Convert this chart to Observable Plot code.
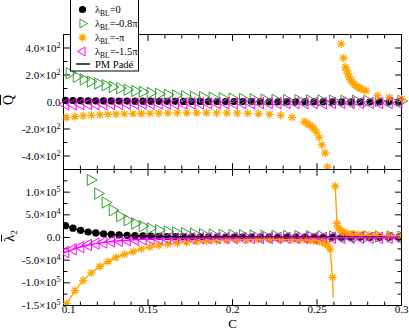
<!DOCTYPE html>
<html><head><meta charset="utf-8">
<script src="https://cdn.jsdelivr.net/npm/d3@7"></script>
<script src="https://cdn.jsdelivr.net/npm/@observablehq/plot@0.6"></script>
<style>
html,body{margin:0;padding:0;background:#fff;}
#wrap{position:relative;width:409px;height:329px;overflow:hidden;font-family:"Liberation Serif","DejaVu Serif",serif;}
#wrap > svg{position:absolute;left:0;}
.lab{position:absolute;font-family:"Liberation Serif","DejaVu Serif",serif;color:#000;white-space:nowrap;line-height:1;}
</style></head><body><div id="wrap"></div>
<script>
// ---------- data ----------
const gridC = [0.1012,0.1056,0.1101,0.1146,0.1191,0.1237,0.1283,0.1329,0.1376,0.1423,0.1470,0.1517,0.1565,0.1613,0.1661,0.1710,0.1759,0.1809,0.1858,0.1908,0.1959,0.2009,0.2060,0.2112,0.2164,0.2216,0.2268,0.2321,0.2374,0.2428,0.2482,0.2536,0.2590,0.2645,0.2701,0.2756,0.2813,0.2869,0.2926,0.2983];
const qBlack = [12,11,10,9,9,8,8,7,7,6,6,6,5,5,5,4,4,4,4,3,3,3,3,3,2,2,2,2,2,2,2,2,1,1,1,1,1,1,1,1];
const qMagenta = [-18,-17,-16,-15,-15,-14,-14,-13,-13,-12,-12,-12,-11,-11,-11,-10,-10,-10,-10,-9,-9,-9,-9,-9,-8,-8,-8,-8,-8,-8,-8,-8,-7,-7,-7,-7,-7,-7,-7,-7];
const lBlack = [26000,20500,15500,12000,10000,8200,6800,5600,4700,4000,3400,2900,2500,2200,1900,1700,1500,1350,1250,1150,1050,1000,950,900,850,800,780,760,740,720,700,680,660,640,620,600,590,580,570,560];
const lMagenta = [-32000,-26000,-21000,-16500,-13500,-11000,-8800,-7300,-6000,-4900,-4000,-3400,-2900,-2500,-2200,-1900,-1700,-1550,-1400,-1300,-1200,-1100,-1050,-1000,-950,-900,-870,-840,-810,-780,-750,-720,-700,-680,-660,-640,-620,-600,-590,-580];

const gC = [0.1035,0.1077,0.1118,0.1160,0.1204,0.1248,0.1290,0.1334,0.1378,0.1423,0.1467,0.1514,0.1564,0.1615,0.1665,0.1718,0.1771,0.1824,0.1881,0.1940,0.1999,0.2061,0.2123,0.2188,0.2253,0.2321,0.2389,0.2457,0.2525,0.2593,0.2661,0.2729,0.2797,0.2865,0.2934,0.2998];
const qGreen = [213,186,167,151,137,124,112,102,91,82,75,67,60,54,48,42,39,36,32,28,25,22,20,18,16,14,13,12,11,10,9,9,8,8,7,7];
const lGreenC = [0.1160,0.1204,0.1248,0.1290,0.1334,0.1378,0.1423,0.1467,0.1514,0.1564,0.1615,0.1665,0.1718,0.1771,0.1824,0.1881,0.1940,0.1999,0.2061,0.2123,0.2188,0.2253,0.2321,0.2389,0.2457,0.2525,0.2593,0.2661,0.2729,0.2797,0.2865,0.2934,0.2998];
const lGreen = [127000,97000,77000,60000,47000,38000,31000,25000,20000,16000,13000,11000,9500,8300,7300,6500,5800,5200,4700,4300,3900,3600,3300,3100,2900,2700,2500,2400,2300,2200,2100,2000,1900];

const sC = [0.1018,0.1068,0.1116,0.1165,0.1215,0.1263,0.1311,0.1361,0.1411,0.1461,0.1512,0.1564,0.1618,0.1674,0.1730,0.1788,0.1846,0.1906,0.1966,0.2028,0.2090,0.2154,0.2219,0.2285,0.2352,
  0.2424,0.2436,0.2448,0.2460,0.2472,0.2483,0.2498,0.2513,0.2529,0.2548,0.2562,
  0.2643,0.2657,0.2668,0.2675,0.2683,0.2690,0.2696,0.2705,0.2716,0.2726,0.2738,0.2749,0.2761,0.2775,0.2791,0.2858,0.2929,0.3002];
const qOrange = [-115,-108,-103,-99,-95,-92,-90,-88,-86,-85,-84,-83,-82,-81,-80,-80,-80,-81,-82,-83,-84,-86,-92,-99,-114,
  -145,-155,-163,-173,-185,-200,-225,-262,-318,-378,-483,
  431,326,259,235,209,185,168,152,136,125,113,105,98,90,83,47,32,22];

const lsLowC = [0.1018,0.1068,0.1116,0.1165,0.1215,0.1263,0.1311,0.1361,0.1411,0.1461,0.1512,0.1564,0.1618,0.1674,0.1730,0.1788,0.1846,0.1906,0.1966,0.2028,0.2090,0.2154,0.2219,0.2285,0.2352,
  0.2401,0.2440,0.2460,0.2479,0.2499,0.2515,0.2529,0.2543,0.2551,0.2564,0.2578,0.2592];
const lOrangeLow = [-146000,-117000,-95000,-78000,-64000,-53000,-44000,-37000,-31000,-25000,-21000,-17500,-14500,-12000,-10500,-9000,-7800,-6800,-6000,-5300,-4800,-4500,-4400,-4500,-4800,
  -5200,-5800,-6300,-7000,-7800,-8800,-10000,-11500,-13000,-17000,-26000,-88000];
const lsHighC = [0.2608,0.2618,0.2627,0.2637,0.2647,0.2657,0.2670,0.2684,0.2702,0.2723,0.2743,0.2767,0.2809,0.2854,0.2923,0.3002];
const lOrangeHigh = [113000,31000,21000,16000,13000,11000,9500,8300,7400,6700,6100,5700,5100,4600,4000,3500];

// PM Padé curve ends (beyond the markers)
const padeLeadC = [0.1];
const padeBlackLead = [28000];
const padeMagentaLead = [-34000];
const padeOrangeLead = [-162000];
const padePoleC = [0.2596];
const padeOrangePole = [-131000];

// ticks
const xMajor = [0.1,0.15,0.2,0.25,0.3];
const xMajorLabels = ["0.1","0.15","0.2","0.25","0.3"];
const xMinor = [0.11,0.12,0.13,0.14,0.16,0.17,0.18,0.19,0.21,0.22,0.23,0.24,0.26,0.27,0.28,0.29];
const topTickVals = [-400,-200,0,200,400];
const topTickLabels = ["-4.0×10^2","-2.0×10^2","0.0","2.0×10^2","4.0×10^2"];
const topMinor = [-300,-100,100,300];
const botTickVals = [-150000,-100000,-50000,0,50000,100000];
const botTickLabels = ["-1.5×10^5","-1.0×10^5","-5.0×10^4","0.0","5.0×10^4","1.0×10^5"];
const botMajorAll = [-150000,-100000,-50000,0,50000,100000,150000];
const botMinor = [-125000,-75000,-25000,25000,75000,125000];
const xTitle = ["C"];

const legendLabels = [["λ","BL","=0"],["λ","BL","=-0.8π"],["λ","BL","=-π"],["λ","BL","=-1.5π"]];
const padeLabel = "PM Padé";

// ---------- styles ----------
const SERIF = '"Liberation Serif", "DejaVu Serif", serif';
const GREEN = "#2f9f2f", ORANGE = "#ffa500", MAGENTA = "#ff00ff";
const tickShape = {draw(ctx, l){ ctx.moveTo(0,0); ctx.lineTo(0,-l); }};
const starSymbol = {draw(ctx, size){
  const r = Math.sqrt(size/Math.PI), d = r*0.7071;
  ctx.moveTo(-r,0); ctx.lineTo(r,0); ctx.moveTo(0,-r); ctx.lineTo(0,r);
  ctx.moveTo(-d,-d); ctx.lineTo(d,d); ctx.moveTo(-d,d); ctx.lineTo(d,-d);
}};

function frameTicks(xMaj, xMin, yMaj, yMin){
  const o = {anchor:"start", shape: tickShape, stroke:"black", strokeWidth:1};
  const m = [];
  for (const [vals, len] of [[xMaj,6],[xMin,3.5]]) {
    m.push(Plot.vector(vals, {...o, x: d=>d, frameAnchor:"bottom", rotate:0, length:len}));
    m.push(Plot.vector(vals, {...o, x: d=>d, frameAnchor:"top", rotate:180, length:len}));
  }
  for (const [vals, len] of [[yMaj,6],[yMin,3.5]]) {
    m.push(Plot.vector(vals, {...o, y: d=>d, frameAnchor:"left", rotate:90, length:len}));
    m.push(Plot.vector(vals, {...o, y: d=>d, frameAnchor:"right", rotate:-90, length:len}));
  }
  return m;
}
function supify(svg){
  d3.select(svg).selectAll('g[aria-label="y-axis tick label"] text').each(function(){
    const t = this.textContent; const k = t.indexOf("^"); if (k < 0) return;
    const s = d3.select(this); s.text(t.slice(0,k));
    s.append("tspan").attr("dy","-0.5em").attr("font-size","8px").text(t.slice(k+1));
  });
  d3.select(svg).selectAll('text').style("font-family", SERIF);
}
const dotsOf = (C, V, kind, clip) => {
  if (kind === "circle") return Plot.dot(V, {x: C, y: V, r: 3.6, fill: "black", stroke: "none", clip});
  if (kind === "right") return Plot.dot(V, {x: C, y: V, r: 4.2, symbol: "triangle", rotate: 90, fill: "none", stroke: GREEN, strokeWidth: 1, clip});
  if (kind === "left") return Plot.dot(V, {x: C, y: V, r: 4.2, symbol: "triangle", rotate: -90, fill: "none", stroke: MAGENTA, strokeWidth: 1, clip});
  return Plot.dot(V, {x: C, y: V, r: 4.2, symbol: starSymbol, fill: "none", stroke: ORANGE, strokeWidth: 1.3, clip});
};

const wrap = document.getElementById("wrap");

// ---------- top panel ----------
const topSvg = Plot.plot({
  width: 409, height: 170, marginLeft: 63, marginRight: 8, marginTop: 34, marginBottom: 1,
  style: {fontFamily: SERIF, fontSize: "11px", background: "transparent", color: "black"},
  x: {domain: [0.1, 0.3], axis: null},
  y: {domain: [-500, 500], axis: null},
  marks: [
    Plot.frame({stroke: "black", strokeWidth: 1}),
    ...frameTicks(xMajor, xMinor, topTickVals, topMinor),
    Plot.axisY({ticks: topTickVals, tickFormat: d => topTickLabels[topTickVals.indexOf(d)], tickSize: 0, tickPadding: 3, label: null, fontSize: 11}),
    dotsOf(gridC, qBlack, "circle"),
    dotsOf(gC, qGreen, "right"),
    dotsOf(sC, qOrange, "star"),
    dotsOf(gridC, qMagenta, "left")
  ]
});
topSvg.style.top = "0px";
supify(topSvg);
wrap.appendChild(topSvg);

// ---------- bottom panel ----------
const padeBlackC = padeLeadC.concat(gridC), padeBlackV = padeBlackLead.concat(lBlack);
const padeMagC = padeLeadC.concat(gridC), padeMagV = padeMagentaLead.concat(lMagenta);
const padeOrLowC = padeLeadC.concat(lsLowC, padePoleC), padeOrLowV = padeOrangeLead.concat(lOrangeLow, padeOrangePole);

const botSvg = Plot.plot({
  width: 409, height: 161, marginLeft: 63, marginRight: 8, marginTop: 1, marginBottom: 24,
  style: {fontFamily: SERIF, fontSize: "11px", background: "transparent", color: "black"},
  x: {domain: [0.1, 0.3], axis: null},
  y: {domain: [-150000, 150000], axis: null},
  marks: [
    Plot.frame({stroke: "black", strokeWidth: 1}),
    ...frameTicks(xMajor, xMinor, botMajorAll, botMinor),
    Plot.axisY({ticks: botTickVals, tickFormat: d => botTickLabels[botTickVals.indexOf(d)], tickSize: 0, tickPadding: 3, label: null, fontSize: 11}),
    Plot.axisX({ticks: xMajor, tickFormat: d => xMajorLabels[xMajor.indexOf(d)], tickSize: 0, tickPadding: 0, label: null, fontSize: 11}),
    Plot.text(xTitle, {text: d => d, frameAnchor: "bottom", dy: 22, lineAnchor: "bottom", fontSize: 13}),
    dotsOf(gridC, lBlack, "circle", true),
    dotsOf(lGreenC, lGreen, "right", true),
    dotsOf(lsLowC, lOrangeLow, "star", true),
    dotsOf(lsHighC, lOrangeHigh, "star", true),
    dotsOf(gridC, lMagenta, "left", true),
    Plot.line(padeBlackV, {x: padeBlackC, y: padeBlackV, stroke: "black", strokeWidth: 1.4, clip: true}),
    Plot.line(padeMagV, {x: padeMagC, y: padeMagV, stroke: MAGENTA, strokeWidth: 1.4, clip: true}),
    Plot.line(padeOrLowV, {x: padeOrLowC, y: padeOrLowV, stroke: ORANGE, strokeWidth: 1.4, clip: true}),
    Plot.line(lOrangeHigh, {x: lsHighC, y: lOrangeHigh, stroke: ORANGE, strokeWidth: 1.4, clip: true})
  ]
});
botSvg.style.top = "168px";
supify(botSvg);
d3.select(botSvg).selectAll('g[aria-label="x-axis tick label"] text').each(function(){
  if (this.textContent === "0.1") d3.select(this).attr("dx", 5);
});
wrap.appendChild(botSvg);

// ---------- axis titles ----------
function addLabel(html, cx, cy, size, rotate){
  const d = document.createElement("div");
  d.className = "lab";
  d.innerHTML = html;
  d.style.fontSize = size + "px";
  d.style.left = cx + "px"; d.style.top = cy + "px";
  d.style.transform = "translate(-50%,-50%)" + (rotate ? " rotate(-90deg)" : "");
  wrap.appendChild(d);
}
addLabel('<span style="text-decoration:overline">Q</span>', 9, 100, 14, true);
addLabel('<span style="text-decoration:overline">λ</span><span style="font-size:9px;position:relative;top:3px">2</span>', 10, 236, 14, true);

// ---------- legend ----------
const lg = d3.create("svg").attr("width", 69).attr("height", 73)
  .style("position","absolute").style("left","69.5px").style("top","-1px")
  .style("font-family", SERIF).style("font-size","10.5px");
lg.append("rect").attr("x",0.5).attr("y",0.5).attr("width",68).attr("height",71.5).attr("fill","white").attr("stroke","black");
const rowsY = [10.5, 24.5, 38.5, 52.5];
const sym = (type, size) => d3.symbol(type, size)();
lg.append("circle").attr("cx",12.5).attr("cy",rowsY[0]).attr("r",3.6).attr("fill","black");
lg.append("path").attr("d", sym(d3.symbolTriangle2, Math.PI*4.2*4.2)).attr("transform",`translate(12.5,${rowsY[1]}) rotate(90)`).attr("fill","none").attr("stroke",GREEN);
lg.append("path").attr("d", sym(starSymbol, Math.PI*4.2*4.2)).attr("transform",`translate(12.5,${rowsY[2]})`).attr("fill","none").attr("stroke",ORANGE).attr("stroke-width",1.3);
lg.append("path").attr("d", sym(d3.symbolTriangle2, Math.PI*4.2*4.2)).attr("transform",`translate(12.5,${rowsY[3]}) rotate(-90)`).attr("fill","none").attr("stroke",MAGENTA);
lg.append("line").attr("x1",6).attr("x2",20).attr("y1",65).attr("y2",65).attr("stroke","black").attr("stroke-width",1.4);
legendLabels.forEach((p, i) => {
  const t = lg.append("text").attr("x", 25).attr("y", rowsY[i] + 3.5).attr("font-family", SERIF);
  t.append("tspan").text(p[0]);
  t.append("tspan").attr("dy", 3).attr("font-size", "7.5px").text(p[1]);
  t.append("tspan").attr("dy", -3).text(p[2]);
});
lg.append("text").attr("x", 25).attr("y", 68.5).attr("font-family", SERIF).text(padeLabel);
wrap.appendChild(lg.node());
</script>
</body></html>
